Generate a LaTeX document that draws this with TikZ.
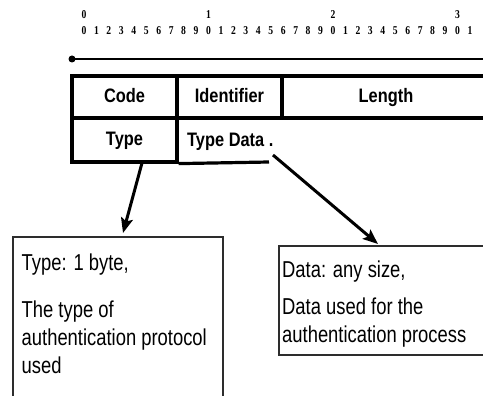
\documentclass[tikz,border=0pt]{standalone}
\usepackage{fontspec}
\usetikzlibrary{arrows.meta}
\newfontfamily\tabfont{Liberation Sans}[FakeStretch=0.84]
\newfontfamily\boxfont{Liberation Sans}[FakeStretch=0.8]
\newfontfamily\digfont{Liberation Serif}[FakeStretch=0.8]
\begin{document}
\begin{tikzpicture}[x=1pt,y=-1pt,
  cell/.style={draw=black,line width=3.2pt,rectangle,inner sep=0pt,
    font=\tabfont\bfseries\fontsize{19.5}{22}\selectfont,text height=13pt,text depth=1pt},
  celltext/.style={inner sep=0pt,font=\tabfont\bfseries\fontsize{19.5}{22}\selectfont},
  infobox/.style={draw={rgb,255:red,45;green,45;blue,45},line width=1.8pt,rectangle,inner sep=0pt},
  infotext/.style={inner sep=0pt,anchor=base west,font=\boxfont\fontsize{23}{28}\selectfont},
  digit/.style={inner sep=0pt,anchor=base,font=\digfont\bfseries\fontsize{12}{14}\selectfont},
  ptr/.style={line width=3pt,-{Stealth[length=15pt,width=12pt,inset=3pt]}}]
\useasboundingbox (0,0) rectangle (483,396);
% bit numbering
\foreach \k in {0,1,2,3}{
  \node[digit] (top\k) at (84+124.5*\k,19) {\k};
}
\foreach \i in {0,...,31}{
  \pgfmathtruncatemacro{\d}{mod(\i,10)}
  \node[digit] (d\i) at (84+12.45*\i,35) {\d};
}
\node[circle,fill=black,inner sep=0pt,minimum size=7pt] (dot) at (72,59) {};
\coordinate (lineend) at (490,59);
\draw[line width=2.4pt] (dot.center) -- (lineend);
% table
\node[cell,minimum width=105pt,minimum height=42pt] (code) at (124.5,97) {Code};
\node[cell,minimum width=105pt,minimum height=42pt] (ident) at (229.5,97) {Identifier};
\node[cell,minimum width=208pt,minimum height=42pt] (length) at (386,97) {Length};
\node[cell,minimum width=105pt,minimum height=44pt] (type) at (124.5,140) {Type};
\node[celltext,anchor=base west] (tdata) at (187,146.5) {Type Data .};
\coordinate (tdend) at (269,162);
\draw[line width=3.2pt] (type.south east) -- (tdend);
% info boxes
\node[infobox,minimum width=210pt,minimum height=183pt] (lbox) at (118,328.5) {};
\node[infobox,minimum width=216pt,minimum height=109pt] (rbox) at (387,300.5) {};
\node[infotext] (l1) at (21.5,270) {Type: 1 byte,};
\node[infotext] (l2) at (21.5,317) {The type of};
\node[infotext] (l3) at (21.5,345) {authentication protocol};
\node[infotext] (l4) at (21.5,373) {used};
\node[infotext] (r1) at (282,277) {Data: any size,};
\node[infotext] (r2) at (282,314) {Data used for the};
\node[infotext] (r3) at (282,342.5) {authentication process};
% arrows
\coordinate (a1s) at (142,163);
\coordinate (a1e) at (123,233);
\coordinate (a2s) at (273,155);
\coordinate (a2e) at (378,244);
\draw[ptr] (a1s) -- (a1e);
\draw[ptr] (a2s) -- (a2e);
\end{tikzpicture}
\end{document}
